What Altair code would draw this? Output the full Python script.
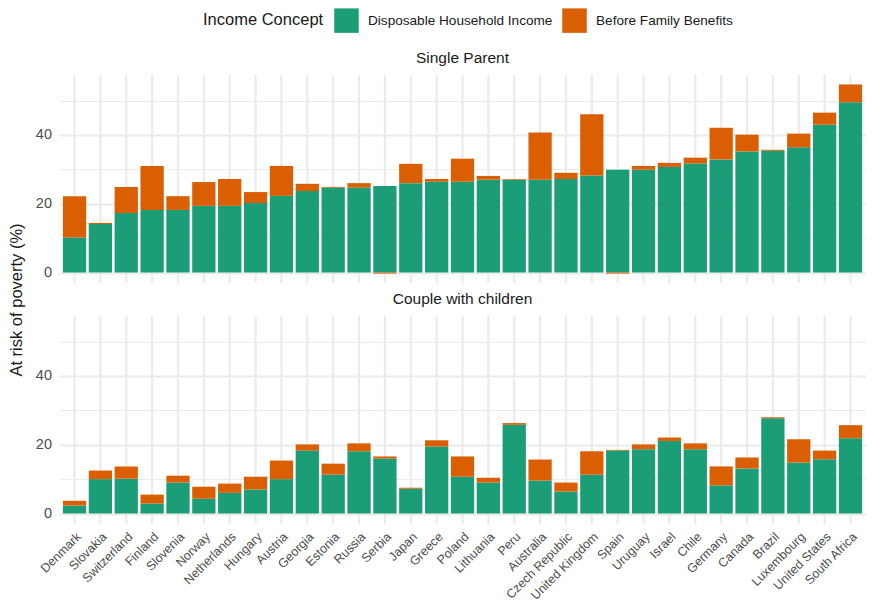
import altair as alt
import pandas as pd

countries = ["Denmark", "Slovakia", "Switzerland", "Finland", "Slovenia", "Norway",
             "Netherlands", "Hungary", "Austria", "Georgia", "Estonia", "Russia",
             "Serbia", "Japan", "Greece", "Poland", "Lithuania", "Peru", "Australia",
             "Czech Republic", "United Kingdom", "Spain", "Uruguay", "Israel", "Chile",
             "Germany", "Canada", "Brazil", "Luxembourg", "United States", "South Africa"]

# Single Parent: disposable household income rate, and extra segment before family benefits
sp_dhi = [10.2, 14.1, 17.3, 18.2, 18.2, 19.4, 19.4, 20.2, 22.3, 23.7, 24.7, 24.7,
          25.2, 26.0, 26.4, 26.4, 27.0, 27.0, 27.0, 27.2, 28.2, 29.9, 29.9, 30.7,
          31.7, 32.9, 35.2, 35.4, 36.4, 43.0, 49.5]
sp_bfb = [12.0, 0.3, 7.6, 12.8, 4.0, 6.9, 7.8, 3.2, 8.7, 2.1, 0.2, 1.3,
          -0.3, 5.6, 0.8, 6.7, 1.1, 0.2, 13.7, 1.8, 17.8, -0.3, 1.1, 1.2,
          1.7, 9.2, 4.9, 0.3, 4.0, 3.5, 5.2]

# Couple with children
cc_dhi = [2.3, 10.0, 10.1, 2.9, 9.0, 4.3, 6.0, 7.0, 10.0, 18.3, 11.3, 18.1,
          16.0, 7.2, 19.5, 10.7, 9.0, 25.8, 9.6, 6.4, 11.3, 18.3, 18.7, 21.1,
          18.7, 8.2, 13.1, 27.7, 14.8, 15.8, 21.9]
cc_bfb = [1.4, 2.5, 3.6, 2.6, 2.0, 3.5, 2.7, 3.7, 5.4, 1.8, 3.2, 2.3,
          0.6, 0.3, 1.8, 5.9, 1.4, 0.5, 6.1, 2.6, 6.8, 0.2, 1.4, 1.0,
          1.7, 5.5, 3.2, 0.3, 6.8, 2.5, 3.8]

concepts = ["Disposable Household Income", "Before Family Benefits"]
colors = ["#1b9e77", "#d95f02"]
y_ticks = [0, 10, 20, 30, 40, 50]

def long_df(dhi, bfb):
    rows = []
    for c, d, b in zip(countries, dhi, bfb):
        rows.append({"country": c, "concept": concepts[0], "value": d, "ord": 0})
        rows.append({"country": c, "concept": concepts[1], "value": b, "ord": 1})
    return pd.DataFrame(rows)

FONT = "Liberation Sans"
W, H, GAP = 807, 208, 33
GRID = "#ebebeb"

grid_w = {"condition": {"test": "datum.value % 20 === 0", "value": 2}, "value": 1}

x_scale = alt.Scale(paddingInner=0.1, paddingOuter=0.15)
y_scale = alt.Scale(domain=[-3.05, 57.45], nice=False, zero=False)

def y_axis(with_title):
    kw = dict(values=y_ticks,
              labelExpr="datum.value % 20 === 0 ? datum.label : ''",
              grid=True, gridColor=GRID, gridWidth=grid_w,
              ticks=False, domain=False, labelColor="#4d4d4d", labelFontSize=14.5,
              labelPadding=7.5, labelFont=FONT)
    if with_title:
        kw.update(title="At risk of poverty (%)", titleFont=FONT, titleFontSize=16.5,
                  titleFontWeight="normal", titleColor="#1a1a1a", titlePadding=11,
                  titleY=(2 * H + GAP) / 2)
    else:
        kw.update(title=None)
    return alt.Axis(**kw)

def panel(df, title, bottom):
    if bottom:
        xa = alt.Axis(title=None, labelAngle=-45, labelAlign="right", labelBaseline="top",
                      labelPadding=6, labelColor="#4d4d4d", labelFontSize=12.5, labelFont=FONT,
                      ticks=False, domain=False, grid=False, labelOverlap=False, labelBound=False)
    else:
        xa = alt.Axis(title=None, labels=False, ticks=False, domain=False, grid=False)

    vgrid = alt.Chart(pd.DataFrame({"country": countries})).mark_rule(
        color=GRID, strokeWidth=2.2
    ).encode(x=alt.X("country:N", sort=countries, scale=x_scale, axis=xa))

    bars = alt.Chart(df).mark_bar().encode(
        x=alt.X("country:N", sort=countries, scale=x_scale, axis=xa),
        y=alt.Y("value:Q", stack="zero", scale=y_scale, axis=y_axis(not bottom)),
        color=alt.Color("concept:N",
                        scale=alt.Scale(domain=concepts, range=colors),
                        legend=alt.Legend(title="Income Concept", orient="none",
                                          direction="horizontal", legendX=144, legendY=-67,
                                          titleOrient="left", titleFont=FONT, titleFontSize=16.5,
                                          titleFontWeight="normal", titleColor="#1a1a1a",
                                          titlePadding=10, labelFont=FONT, labelFontSize=13.6,
                                          labelColor="#1a1a1a", labelOffset=9, columnPadding=9,
                                          labelLimit=400,
                                          symbolType="square", symbolSize=600,
                                          symbolStrokeWidth=0, symbolOpacity=1)),
        order=alt.Order("ord:Q"),
    )
    return alt.layer(vgrid, bars).properties(
        width=W, height=H,
        title=alt.TitleParams(title, anchor="middle", font=FONT, fontSize=15.5,
                              fontWeight="normal", color="#1a1a1a", offset=7))

top = panel(long_df(sp_dhi, sp_bfb), "Single Parent", False)
bot = panel(long_df(cc_dhi, cc_bfb), "Couple with children", True)

chart = alt.vconcat(top, bot, spacing=GAP, bounds="flush").properties(
    padding={"left": 0, "top": 0, "right": 0, "bottom": 0},
    background="white",
).configure_view(stroke=None)

chart.save("out.html", embed_options={"renderer": "svg", "actions": False})
